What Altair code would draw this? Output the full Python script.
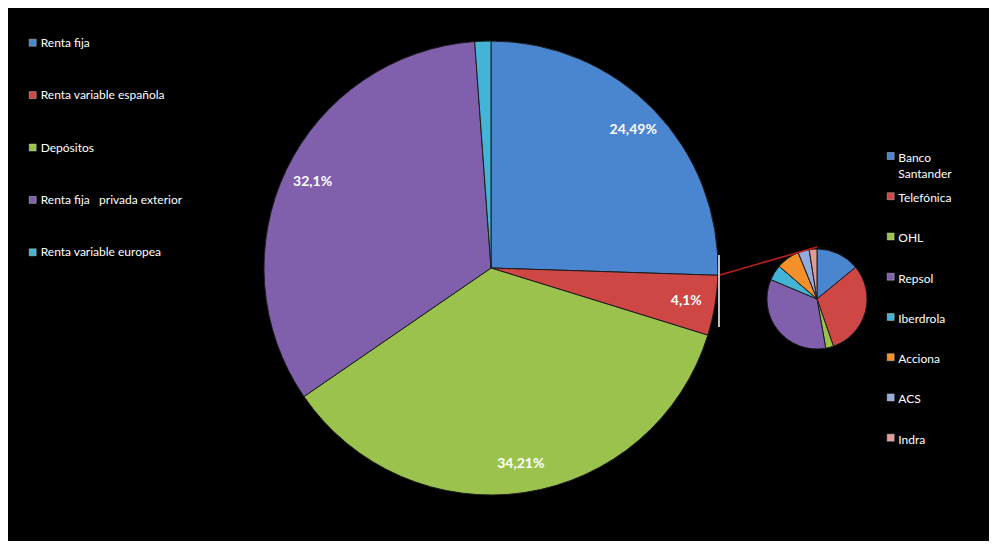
import altair as alt
import pandas as pd

# ---------------- data ----------------
main_cats = ["Renta fija", "Renta variable española", "Depósitos",
             "Renta fija\u00a0\u00a0 privada exterior", "Renta variable europea"]
main_vals = [24.49, 4.1, 34.21, 32.1, 1.1]
main_labels = ["24,49%", "4,1%", "34,21%", "32,1%", ""]
main_colors = ["#4a85d0", "#cf4745", "#9bc24c", "#8060ad", "#43b4d6"]

sub_names = ["Banco Santander", "Telefónica", "OHL", "Repsol", "Iberdrola",
             "Acciona", "ACS", "Indra"]
sub_vals = [14.0, 30.5, 2.5, 34.0, 5.0, 7.5, 3.6, 2.5]
sub_colors = ["#4a85d0", "#cf4745", "#9bc24c", "#8060ad", "#43b4d6",
              "#f39029", "#93acdc", "#e09a9a"]

# ---------------- layout ----------------
W, H = 981, 533
MAIN_CX, MAIN_CY, MAIN_R = 483, 260, 227
LABEL_R = 198
SUB_CX, SUB_CY, SUB_R = 809, 291, 50
FONT = "Lato"

main_df = pd.DataFrame({"name": main_cats, "value": main_vals,
                        "label": main_labels, "idx": range(len(main_cats))})
sub_df = pd.DataFrame({"name": sub_names, "value": sub_vals,
                       "idx": range(len(sub_names))})

color = alt.Color("name:N", legend=None,
                  scale=alt.Scale(domain=main_cats + sub_names,
                                  range=main_colors + sub_colors))

main_arc = alt.Chart(main_df).mark_arc(
    stroke="#1c1c1c", strokeWidth=1, radius=MAIN_R
).encode(
    theta=alt.Theta("value:Q", stack=True),
    order=alt.Order("idx:Q"),
    color=color,
    x=alt.value(MAIN_CX), y=alt.value(MAIN_CY),
)

main_text = alt.Chart(main_df).mark_text(
    radius=LABEL_R, font=FONT, fontSize=14, fontWeight="bold", color="white"
).encode(
    theta=alt.Theta("value:Q", stack=True),
    order=alt.Order("idx:Q"),
    text="label:N",
    x=alt.value(MAIN_CX), y=alt.value(MAIN_CY),
)

sub_arc = alt.Chart(sub_df).mark_arc(
    stroke="#1c1c1c", strokeWidth=1, radius=SUB_R
).encode(
    theta=alt.Theta("value:Q", stack=True),
    order=alt.Order("idx:Q"),
    color=color,
    x=alt.value(SUB_CX), y=alt.value(SUB_CY),
)

# legends drawn through a point scale per legend
left_y = alt.Y("name:N", axis=None,
               scale=alt.Scale(type="point", padding=0, domain=main_cats,
                               range=[34.7, 244.3]))
right_y = alt.Y("name:N", axis=None,
                scale=alt.Scale(type="point", padding=0, domain=sub_names,
                                range=[148, 429.7]))

left_sq = alt.Chart(main_df).mark_square(size=49, opacity=1, stroke="#dddddd",
                                         strokeWidth=0.4).encode(
    x=alt.value(24.7), y=left_y, color=color)
left_tx = alt.Chart(main_df).mark_text(
    align="left", baseline="middle", font=FONT, fontSize=12, color="white"
).encode(x=alt.value(32.7), y=left_y, text="name:N")

right_sq = alt.Chart(sub_df).mark_square(size=49, opacity=1, stroke="#dddddd",
                                         strokeWidth=0.4).encode(
    x=alt.value(882.7), y=right_y, color=color)
right_tx = alt.Chart(sub_df).mark_text(
    align="left", baseline="top", dy=-3, lineBreak=" ", lineHeight=16,
    font=FONT, fontSize=12, color="white"
).encode(x=alt.value(890.3), y=right_y, text="name:N")

# connector lines between the two pies
white_line = alt.Chart().mark_rule(color="white", strokeWidth=1.5).encode(
    x=alt.value(MAIN_CX + MAIN_R + 1), y=alt.value(MAIN_CY - 13),
    y2=alt.value(MAIN_CY + 59))
red_line = alt.Chart().mark_rule(color="#c0201c", strokeWidth=1.5).encode(
    x=alt.value(MAIN_CX + MAIN_R + 2), y=alt.value(MAIN_CY + 7),
    x2=alt.value(SUB_CX), y2=alt.value(SUB_CY - SUB_R - 2))

chart = alt.layer(
    main_arc, main_text, sub_arc, white_line, red_line,
    left_sq, left_tx, right_sq, right_tx
).resolve_scale(
    theta="independent", y="independent"
).properties(
    width=W, height=H,
    autosize=alt.AutoSizeParams(type="none"),
    padding=0,
    background="black",
).configure_view(stroke=None)

chart.save("out.html", embed_options={"renderer": "svg", "actions": False})
